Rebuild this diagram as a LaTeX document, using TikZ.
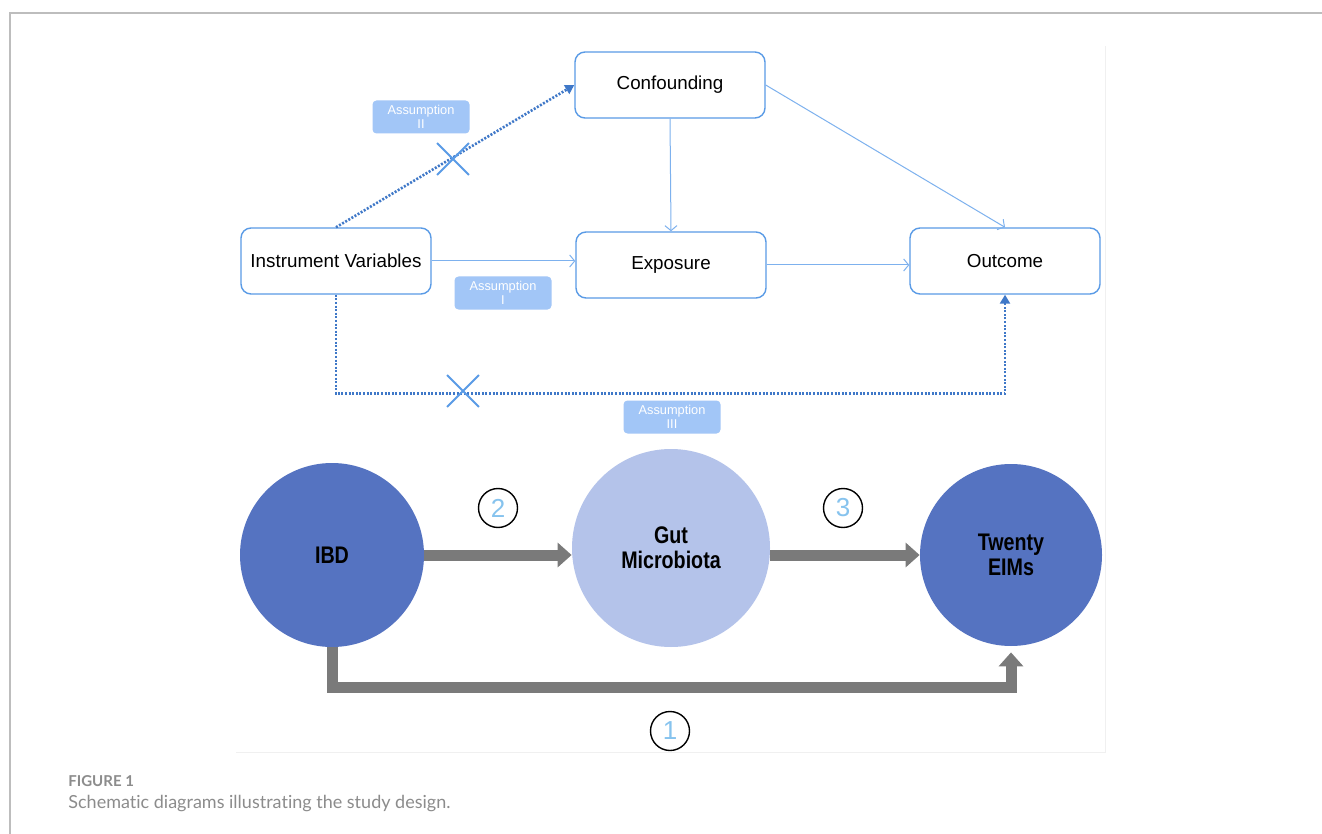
\documentclass[tikz,border=0pt]{standalone}
\usepackage{fontspec}
\setmainfont{Liberation Sans}
\newfontfamily\capfont[Ligatures=NoCommon]{Lato}
\newfontfamily\narrowfont[FakeStretch=0.82]{Liberation Sans}
\usetikzlibrary{positioning,arrows,arrows.meta,calc,shapes.misc}

\definecolor{boxline}{HTML}{5A9BE6}
\definecolor{thinarr}{HTML}{7DB1EE}
\definecolor{dotblue}{HTML}{3F78C8}
\definecolor{tagfill}{HTML}{A2C6F7}
\definecolor{darkcirc}{HTML}{5573C1}
\definecolor{lightcirc}{HTML}{B4C3EA}
\definecolor{fatgray}{HTML}{7A7A7A}
\definecolor{numblue}{HTML}{86C3EE}
\definecolor{capgray}{HTML}{8C8C8C}
\definecolor{framegray}{HTML}{BDBDBD}

\tikzset{
  box/.style={draw=boxline, line width=0.7pt, rounded corners=5pt,
    minimum width=95pt, minimum height=33pt, fill=white,
    font=\fontsize{9.4}{11}\selectfont},
  tag/.style={fill=tagfill, rounded corners=2pt, text=white, align=center,
    minimum width=48.5pt, minimum height=16.5pt, inner sep=0pt,
    font=\fontsize{6.4}{6.8}\selectfont},
  link/.style={draw=thinarr, line width=0.5pt, -{Straight Barb[length=2.5pt,width=6pt]}},
  dotlink/.style={draw=dotblue, line width=1.3pt, dash pattern=on 1pt off 0.8pt,
    -{Triangle[length=4.5pt,width=5pt]}},
  xmark/.style={draw=boxline, cross out, line width=0.9pt, minimum size=15pt, inner sep=0pt},
  blob/.style={circle, inner sep=0pt, align=center,
    font=\narrowfont\bfseries\fontsize{12}{12.5}\selectfont},
  fat/.style={draw=fatgray, line width=5.5pt, -{Triangle[length=7pt,width=12pt]}},
  num/.style={circle, draw=black, line width=0.7pt, minimum size=19.5pt, inner sep=0pt,
    text=numblue, font=\fontsize{13}{13}\selectfont}
}

\begin{document}
\begin{tikzpicture}[x=0.5pt,y=-0.5pt]

  \useasboundingbox[fill=white] (0,0) rectangle (1322,834);
  \draw[framegray, line width=0.8pt] (10,834) -- (10,13) -- (1322,13);
  \draw[black!6, line width=0.5pt] (236,752) -- (1105,752) -- (1105,46);

  % upper part
  \node[box] (cf) at (670,85) {Confounding};
  \node[box] (iv) at (336,261) {Instrument Variables};
  \node[box] (ex) at (671,265) {Exposure};
  \node[box] (oc) at (1005,261) {Outcome};

  \draw[link] (iv.east) -- (ex.west |- iv.east);
  \draw[link] (cf.south) -- (ex.north);
  \draw[link] (cf.east) -- (oc.north);
  \draw[link] (ex.east) -- (oc.west |- ex.east);
  \draw[dotlink] (iv.north) -- (cf.west);
  \draw[dotlink] (iv.south) -- ++(0,99) -| (oc.south);

  \node[xmark] (x1) at (453,159) {};
  \node[xmark] (x2) at (463,391) {};

  \node[tag] (a2) at (421,117) {Assumption\\II};
  \node[tag] (a1) at (503,293) {Assumption\\I};
  \node[tag] (a3) at (672,417) {Assumption\\III};

  % lower part
  \node[blob, fill=darkcirc, minimum size=92pt] (ibd) at (332,555) {IBD};
  \node[blob, fill=lightcirc, minimum size=99pt] (gm) at (671,548) {Gut\\Microbiota};
  \node[blob, fill=darkcirc, minimum size=91pt] (eim) at (1011,555) {Twenty\\EIMs};

  \draw[fat] (ibd.east) -- (gm.west |- ibd.east);
  \draw[fat] (gm.east |- eim.west) -- (eim.west);
  \draw[fat, shorten >=3pt] (ibd.south) -- ++(0,40) -| (eim.south);

  \node[num] (n2) at (498,508) {2};
  \node[num] (n3) at (843,508) {3};
  \node[num] (n1) at (670,731) {1};

  % caption
  \node[anchor=west, inner sep=0pt, text=capgray, font=\capfont\bfseries\fontsize{7.5}{8}\selectfont] (fig) at (68,781) {FIGURE 1};
  \node[anchor=west, inner sep=0pt, text=capgray, font=\capfont\fontsize{9}{11}\selectfont] (cap) at (68,804) {Schematic diagrams illustrating the study design.};

\end{tikzpicture}
\end{document}
